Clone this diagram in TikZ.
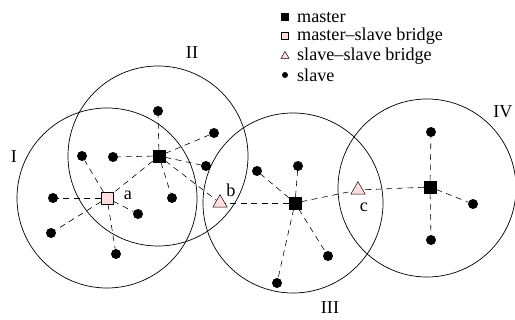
\documentclass[tikz,border=0pt]{standalone}
\usepackage{fontspec}
\setmainfont{Liberation Serif}
\usetikzlibrary{shapes.geometric}

\definecolor{bridgepink}{RGB}{255,221,221}

\begin{document}
\begin{tikzpicture}[x=0.03cm,y=-0.03cm,
   font=\fontsize{15.5}{18}\selectfont,
   master/.style={fill=black,draw=black,minimum size=0.36cm,inner sep=0pt},
   msbridge/.style={fill=bridgepink,draw=black,minimum size=0.36cm,inner sep=0pt},
   ssbridge/.style={regular polygon,regular polygon sides=3,fill=bridgepink,draw=black,minimum size=0.5cm,inner sep=0pt},
   slave/.style={circle,fill=black,minimum size=0.3cm,inner sep=0pt},
   link/.style={dash pattern=on 5pt off 4pt,line width=0.5pt},
   area/.style={draw,line width=0.6pt}]
   \useasboundingbox (0,0) rectangle (515,320);

   % ranges
   \draw[area] (107,198) circle (2.7cm);
   \draw[area] (158,156) circle (2.7cm);
   \draw[area] (293,203) circle (2.7cm);
   \draw[area] (427,188) circle (2.67cm);

   \node (rI)   at (14,157)  {I};
   \node (rII)  at (192,53)  {II};
   \node (rIII) at (330,308) {III};
   \node (rIV)  at (503,112) {IV};

   % masters and bridges
   \node[master]   (m2) at (159,156) {};
   \node[master]   (m3) at (295,203) {};
   \node[master]   (m4) at (430,187) {};
   \node[msbridge] (ba) at (107,198) {};
   \node[ssbridge] (bb) at (220,203) {};
   \node[ssbridge] (bc) at (358,190) {};

   \node (la) at (128,195) {a};
   \node (lb) at (231,190) {b};
   \node (lc) at (364,207) {c};

   % slaves
   \node[slave] (s21) at (158,111) {};
   \node[slave] (s22) at (214,133) {};
   \node[slave] (s23) at (113,157) {};
   \node[slave] (s24) at (206,166) {};
   \node[slave] (s25) at (172,198) {};

   \node[slave] (s11) at (82,156)  {};
   \node[slave] (s12) at (53,198)  {};
   \node[slave] (s13) at (51,233)  {};
   \node[slave] (s14) at (116,254) {};
   \node[slave] (s15) at (138,214) {};

   \node[slave] (s31) at (257,171) {};
   \node[slave] (s32) at (298,166) {};
   \node[slave] (s33) at (328,256) {};
   \node[slave] (s34) at (277,283) {};

   \node[slave] (s41) at (431,132) {};
   \node[slave] (s42) at (473,204) {};
   \node[slave] (s43) at (431,240) {};

   \path[link] (m2) edge (s21) edge (s22) edge (s23) edge (s24) edge (s25)
                    edge (ba) edge (bb);
   \path[link] (ba) edge (s11) edge (s12) edge (s13) edge (s14) edge (s15);
   \path[link] (m3) edge (s31) edge (s32) edge (s33) edge (s34)
                    edge (bb) edge (bc);
   \path[link] (m4) edge (s41) edge (s42) edge (s43) edge (bc);

   % legend
   \node[master,minimum size=0.2cm]   (k1) at (285,17) {};
   \node[msbridge,minimum size=0.2cm] (k2) at (285,36) {};
   \node[ssbridge,minimum size=0.28cm] (k3) at (285,56) {};
   \node[slave,minimum size=0.18cm]   (k4) at (285,75) {};
   \node[anchor=west] (t1) at (293,17) {master};
   \node[anchor=west] (t2) at (293,36) {master--slave bridge};
   \node[anchor=west] (t3) at (293,56) {slave--slave bridge};
   \node[anchor=west] (t4) at (293,75) {slave};
\end{tikzpicture}
\end{document}
